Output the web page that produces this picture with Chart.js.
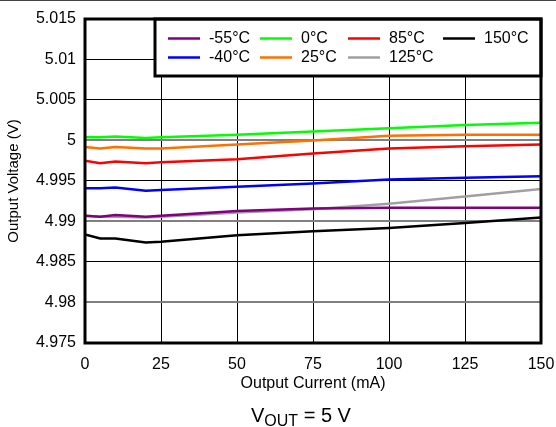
<!DOCTYPE html>
<html>
<head>
<meta charset="utf-8">
<script src="https://cdn.jsdelivr.net/npm/chart.js@4.4.1/dist/chart.umd.min.js"></script>
<style>
  html, body { margin: 0; padding: 0; background: #fff; }
  #wrap { position: relative; width: 556px; height: 427px; }
  #topline { position: absolute; left: 0; top: 0; width: 556px; height: 1px; background: #444; }
  #caption {
    position: absolute; left: 251px; top: 405px;
    font: 20px "Liberation Sans", Arial, sans-serif; line-height: 20px;
    white-space: nowrap; color: #000;
  }
  #caption .sub { font-size: 16px; position: relative; top: 4px; }
</style>
</head>
<body>
<div id="wrap">
  <canvas id="chart" width="556" height="427"></canvas>
  <div id="topline"></div>
  <div id="caption">V<span class="sub">OUT</span> = 5 V</div>
</div>
<script>
// load current (mA) where each curve was sampled
const currents = [0, 5, 10, 20, 25, 50, 75, 100, 125, 150];

// output voltage (V) per ambient temperature
const temps = ['-55°C', '-40°C', '0°C', '25°C', '85°C', '125°C', '150°C'];
const vMinus55 = [4.9907, 4.9906, 4.9908, 4.9906, 4.9907, 4.9913, 4.9916, 4.9917, 4.9917, 4.9917];
const vMinus40 = [4.9941, 4.9941, 4.9942, 4.9938, 4.9939, 4.9943, 4.9947, 4.9952, 4.9954, 4.9956];
const v0 = [5.0004, 5.0004, 5.0005, 5.0003, 5.0004, 5.0007, 5.0011, 5.0015, 5.0019, 5.0022];
const v25 = [4.9992, 4.9990, 4.9992, 4.9990, 4.9990, 4.9995, 5.0000, 5.0006, 5.0007, 5.0007];
const v85 = [4.9975, 4.9972, 4.9974, 4.9972, 4.9973, 4.9977, 4.9984, 4.9990, 4.9993, 4.9995];
const v125 = [4.9907, 4.9906, 4.9906, 4.9905, 4.9906, 4.9911, 4.9915, 4.9922, 4.9931, 4.9940];
const v150 = [4.9884, 4.9879, 4.9879, 4.9874, 4.9875, 4.9883, 4.9888, 4.9892, 4.9898, 4.9905];
const series = [vMinus55, vMinus40, v0, v25, v85, v125, v150];
const colors = ['#800080', '#0000ff', '#00ff00', '#ff7000', '#ff0000', '#a0a0a0', '#000000'];

const xTicks = [0, 25, 50, 75, 100, 125, 150];
const yTicks = [4.975, 4.98, 4.985, 4.99, 4.995, 5, 5.005, 5.01, 5.015];
const grayRows = [5, 4.99, 4.98];

const FONT = '"Liberation Sans", Arial, sans-serif';

const datasets = series.map((vals, i) => ({
    label: temps[i],
    data: vals.map((v, j) => ({ x: currents[j], y: v })),
    borderColor: colors[i],
    borderWidth: 2.5,
    pointRadius: 0,
    tension: 0
}));

// legend box in the top right corner, two rows laid out in columns
const boxLegend = {
    id: 'boxLegend',
    afterDraw(chart) {
        const ctx = chart.ctx;
        const a = chart.chartArea;
        const bx = a.right - 386, by = a.top, bw = 386, bh = 57;
        ctx.save();
        ctx.fillStyle = '#fff';
        ctx.fillRect(bx, by, bw, bh);
        ctx.strokeStyle = '#000';
        ctx.lineWidth = 3;
        ctx.strokeRect(bx, by, bw, bh);

        const colX = [168, 260, 348, 443];
        const rowY = [38.5, 57.5];
        ctx.font = '16px ' + FONT;
        ctx.textBaseline = 'middle';
        ctx.textAlign = 'left';
        chart.data.datasets.forEach((ds, i) => {
            const x = colX[Math.floor(i / 2)];
            const y = rowY[i % 2];
            ctx.strokeStyle = ds.borderColor;
            ctx.lineWidth = 2.5;
            ctx.beginPath();
            ctx.moveTo(x, y);
            ctx.lineTo(x + 32, y);
            ctx.stroke();
            ctx.fillStyle = '#000';
            ctx.fillText(ds.label, x + 41, y);
        });

        // heavy frame round the plot area
        ctx.strokeStyle = '#000';
        ctx.lineWidth = 3;
        ctx.strokeRect(a.left, a.top, a.right - a.left, a.bottom - a.top);
        ctx.restore();
    }
};

new Chart(document.getElementById('chart'), {
    type: 'line',
    data: { datasets },
    plugins: [boxLegend],
    options: {
        responsive: false,
        animation: false,
        layout: { padding: { top: 19, right: 15, left: 0, bottom: 0 } },
        plugins: {
            legend: { display: false },
            tooltip: { enabled: false }
        },
        scales: {
            x: {
                type: 'linear',
                min: 0,
                max: 150,
                afterBuildTicks: s => { s.ticks = xTicks.map(v => ({ value: v })); },
                afterFit: s => { s.height = 84; s.paddingLeft = 0; s.paddingRight = 0; },
                border: { display: false },
                grid: { color: '#000', lineWidth: 1, drawTicks: false },
                ticks: { color: '#000', padding: 12, font: { family: FONT, size: 16 } },
                title: {
                    display: true,
                    text: 'Output Current (mA)',
                    color: '#000',
                    font: { family: FONT, size: 16 },
                    padding: { top: 0, bottom: 34 }
                }
            },
            y: {
                min: 4.975,
                max: 5.015,
                afterBuildTicks: s => { s.ticks = yTicks.map(v => ({ value: v })); },
                afterFit: s => { s.width = 85; s.paddingTop = 0; s.paddingBottom = 0; },
                border: { display: false },
                grid: {
                    drawTicks: false,
                    color: c => grayRows.some(g => Math.abs(g - c.tick.value) < 1e-6) ? '#808080' : '#000',
                    lineWidth: c => grayRows.some(g => Math.abs(g - c.tick.value) < 1e-6) ? 2 : 1
                },
                ticks: {
                    color: '#000',
                    padding: 9,
                    font: { family: FONT, size: 16 },
                    callback: v => String(Number(v.toFixed(3)))
                },
                title: {
                    display: true,
                    text: 'Output Voltage (V)',
                    color: '#000',
                    font: { family: FONT, size: 15 },
                    padding: { top: 5, bottom: 0 }
                }
            }
        }
    }
});
</script>
</body>
</html>
